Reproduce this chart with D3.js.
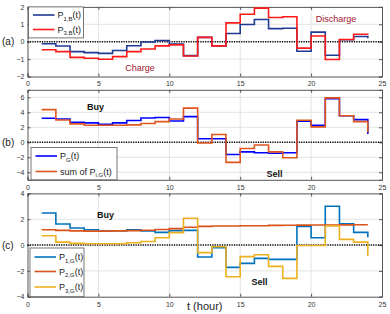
<!DOCTYPE html>
<html>
<head>
<meta charset="utf-8">
<script src="https://cdn.jsdelivr.net/npm/d3@7"></script>
<style>
  body { margin: 0; background: #fff; }
  svg { display: block; font-family: "Liberation Sans", Arial, sans-serif; }
</style>
</head>
<body>
<svg id="chart" width="390" height="314"></svg>
<script>
// hours 1..24 (stairs)
const hours = d3.range(1, 25);

// panel (a): battery power
const p1B = [-0.12, -0.25, -0.57, -0.63, -0.67, -0.51, -0.23, -0.02, 0.07, -0.13, -0.8, 0.25,
             -0.24, 0.47, 0.99, 1.28, 0.75, 0.77, -0.55, 0.55, -0.78, 0.11, 0.3, 0.2];
const p3B = [-0.46, -0.57, -0.9, -0.95, -1.01, -0.86, -0.57, -0.42, -0.24, -0.18, -0.82, 0.25,
             -0.24, 1.08, 1.58, 1.93, 1.39, 1.43, -0.37, 0.33, -1.02, 0.13, 0.43, 0.4];

// panel (b): grid power
const pG = [3.2, 3.11, 2.68, 2.59, 2.41, 2.59, 2.9, 3.25, 3.3, 2.85, 3.42, 0.48,
            0.48, -1.62, -1.27, -1.4, -1.45, -1.4, 2.81, 2.28, 5.83, 3.55, 3.03, 1.1];
const sumPiG = [4.36, 2.98, 2.46, 2.28, 2.28, 2.28, 2.32, 2.5, 2.76, 3.11, 4.56, -0.1,
                1.05, -2.68, -0.83, -0.35, -1.27, -2.06, 2.94, 2.06, 5.92, 3.55, 2.76, 1.35];

// panel (c): per-unit grid power
const p1G = [2.48, 1.63, 1.32, 1.19, 1.09, 1.11, 1.19, 1.09, 0.98, 1.12, 1.14, -0.93,
             -0.2, -1.73, -1.42, -1.03, -1.11, -1.11, 1.45, 0.57, 3.0, 1.65, 0.98, 0.6];
const p2G = [1.19, 1.14, 1.1, 1.08, 1.08, 1.1, 1.12, 1.15, 1.2, 1.27, 1.38, 1.45,
             1.47, 1.48, 1.5, 1.5, 1.52, 1.53, 1.54, 1.55, 1.55, 1.56, 1.57, 1.57];
const p3G = [0.72, 0.23, 0.13, 0.1, 0.1, 0.1, 0.18, 0.28, 0.57, 0.96, 2.07, -0.59,
             -0.13, -2.45, -0.9, -0.75, -1.65, -2.58, -0.03, -0.03, 1.47, 0.44, 0.23, -0.83];

const xTicks = [0, 5, 10, 15, 20, 25];

const svg = d3.select("#chart");
const LEFT = 27.5, RIGHT = 382;
const BOX_COLOR = "#555";
const GRID_COLOR = "#e3e3e3";
const LABEL_RED = "#a2142f";

const x = d3.scaleLinear().domain([0, 25]).range([LEFT, RIGHT]);

const panels = [
    {label: "(a)", top: 6.9, bottom: 76.5, domain: [-2, 2], yTicks: [-2, -1, 0, 1, 2],
     series: [{v: p1B, color: "#1f3a93", name: ["P", "1,B", "(t)"]},
              {v: p3B, color: "#ff1a1a", name: ["P", "3,B", "(t)"]}],
     legend: {x: 28.5, y: 6.9, w: 55, h: 31, rows: [15, 29.5]},
     notes: [{t: "Charge", x: 140, y: 71, color: LABEL_RED},
             {t: "Discharge", x: 336, y: 22, color: LABEL_RED}]},
    {label: "(b)", top: 89.8, bottom: 179.8, domain: [-5, 7], yTicks: [-4, -2, 0, 2, 4, 6],
     series: [{v: pG, color: "#0000ff", name: ["P", "G", "(t)"]},
              {v: sumPiG, color: "#e0561f", name: ["sum of P", "i,G", "(t)"]}],
     legend: {x: 31, y: 147.5, w: 86, h: 32.3, rows: [156, 171.5]},
     notes: [{t: "Buy", x: 95.5, y: 110, color: "#111", bold: true},
             {t: "Sell", x: 274.5, y: 176.5, color: "#111", bold: true}]},
    {label: "(c)", top: 193.4, bottom: 296.7, domain: [-4, 4], yTicks: [-4, -2, 0, 2, 4],
     series: [{v: p1G, color: "#0072bd", name: ["P", "1,G", "(t)"]},
              {v: p2G, color: "#d95319", name: ["P", "2,G", "(t)"]},
              {v: p3G, color: "#edb120", name: ["P", "3,G", "(t)"]}],
     legend: {x: 30, y: 248, w: 54, h: 48.7, rows: [257, 271.5, 287]},
     notes: [{t: "Buy", x: 105.5, y: 218, color: "#111", bold: true},
             {t: "Sell", x: 259.5, y: 285, color: "#111", bold: true}]}
];

panels.forEach(function(p) {
    const y = d3.scaleLinear().domain(p.domain).range([p.bottom, p.top]);
    const g = svg.append("g");

    // grid
    g.selectAll(".gx").data(xTicks.slice(1, -1)).join("line")
        .attr("x1", d => x(d)).attr("x2", d => x(d))
        .attr("y1", p.top).attr("y2", p.bottom)
        .attr("stroke", GRID_COLOR).attr("stroke-width", 1);
    g.selectAll(".gy").data(p.yTicks.filter(d => d > p.domain[0] && d < p.domain[1])).join("line")
        .attr("x1", LEFT).attr("x2", RIGHT)
        .attr("y1", d => y(d)).attr("y2", d => y(d))
        .attr("stroke", GRID_COLOR).attr("stroke-width", 1);

    // axes (ticks point inward like matlab)
    g.append("g").attr("transform", `translate(0,${p.bottom})`)
        .call(d3.axisBottom(x).tickValues(xTicks).tickSize(-3).tickPadding(5).tickFormat(d3.format("d")));
    g.append("g").attr("transform", `translate(${LEFT},0)`)
        .call(d3.axisLeft(y).tickValues(p.yTicks).tickSize(-3).tickPadding(3).tickFormat(d3.format("d")));
    g.append("g").attr("transform", `translate(0,${p.top})`)
        .call(d3.axisTop(x).tickValues(xTicks).tickSize(-3).tickFormat(""));
    g.append("g").attr("transform", `translate(${RIGHT},0)`)
        .call(d3.axisRight(y).tickValues(p.yTicks).tickSize(-3).tickFormat(""));
    g.selectAll(".domain, .tick line").attr("stroke", BOX_COLOR);
    g.selectAll(".tick text").attr("font-size", 7).attr("fill", "#333");

    // zero line
    g.append("line")
        .attr("x1", LEFT).attr("x2", RIGHT)
        .attr("y1", y(0)).attr("y2", y(0))
        .attr("stroke", "#000").attr("stroke-width", 1.4)
        .attr("stroke-dasharray", "1.2,1.2");

    // stairs
    const line = d3.line()
        .x((d, i) => x(hours[i]))
        .y(d => y(d))
        .curve(d3.curveStepAfter);
    p.series.forEach(function(s) {
        g.append("path").datum(s.v)
            .attr("d", line)
            .attr("fill", "none")
            .attr("stroke", s.color)
            .attr("stroke-width", 1.6);
    });

    // legend
    const L = p.legend;
    g.append("rect")
        .attr("x", L.x).attr("y", L.y).attr("width", L.w).attr("height", L.h)
        .attr("fill", "#fff").attr("stroke", BOX_COLOR).attr("stroke-width", 0.8);
    p.series.forEach(function(s, i) {
        const ry = L.rows[i];
        g.append("line")
            .attr("x1", L.x + 4.5).attr("x2", L.x + 26)
            .attr("y1", ry).attr("y2", ry)
            .attr("stroke", s.color).attr("stroke-width", 1.6);
        const t = g.append("text")
            .attr("x", L.x + 29).attr("y", ry + 3)
            .attr("font-size", 9).attr("fill", "#222");
        t.append("tspan").text(s.name[0]);
        t.append("tspan").attr("font-size", 6).attr("dy", 2.5).text(s.name[1]);
        t.append("tspan").attr("dy", -2.5).text(s.name[2]);
    });

    // annotations
    p.notes.forEach(function(n) {
        g.append("text")
            .attr("x", n.x).attr("y", n.y)
            .attr("text-anchor", "middle")
            .attr("font-size", 9)
            .attr("font-weight", n.bold ? "bold" : "normal")
            .attr("fill", n.color)
            .text(n.t);
    });

    // panel label
    svg.append("text")
        .attr("x", 2).attr("y", y(0) + 3.5)
        .attr("font-size", 10).attr("fill", "#222")
        .text(p.label);
});

svg.append("text")
    .attr("x", 187).attr("y", 310)
    .attr("font-size", 11).attr("fill", "#222")
    .text("t (hour)");
</script>
</body>
</html>
